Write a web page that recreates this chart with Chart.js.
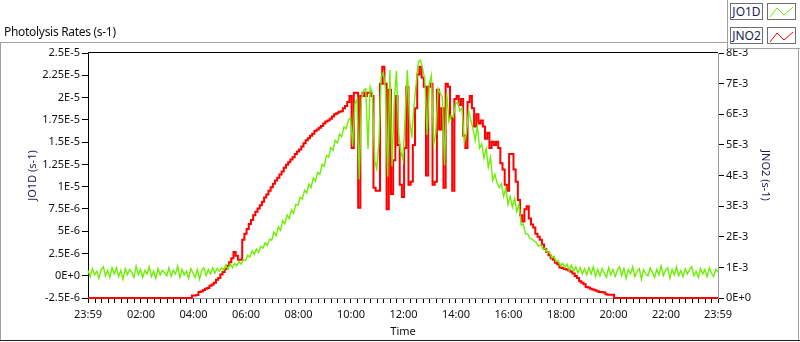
<!DOCTYPE html>
<html>
<head>
<meta charset="utf-8">
<title>Photolysis Rates</title>
<script src="https://cdn.jsdelivr.net/npm/chart.js@4.4.1/dist/chart.umd.min.js"></script>
<style>
  html, body { margin: 0; padding: 0; background: #fff; }
  body { width: 800px; height: 342px; position: relative; overflow: hidden; font-family: "Noto Sans", sans-serif; color: #111; }
  #chart { position: absolute; left: 0; top: 0; }
  .title { position: absolute; left: 4px; top: 24px; font-size: 12px; line-height: 16px; letter-spacing: -0.3px; white-space: nowrap; }
  .line { position: absolute; pointer-events: none; }
  .box { position: absolute; box-sizing: border-box; border: 1px solid #6d6d6d; background: #fff; }
  .name { display: flex; align-items: center; justify-content: center; font-size: 12px; line-height: 14px; color: #1c1c50; }
</style>
</head>
<body>
<canvas id="chart" width="800" height="342"></canvas>

<div class="title">Photolysis Rates (s-1)</div>

<!-- panel frame -->
<div class="line" style="left:0; top:42px; width:727px; border-top:1px solid #a0a0a0"></div>
<div class="line" style="left:727px; top:0; height:48px; border-left:1px solid #a0a0a0"></div>
<div class="line" style="left:727px; top:48px; width:73px; border-top:1px solid #a0a0a0"></div>
<div class="line" style="left:0; top:42px; height:299px; border-left:1px solid #a0a0a0"></div>
<div class="line" style="left:798px; top:48px; height:293px; border-left:1px solid #a0a0a0"></div>
<div class="line" style="left:0; top:340px; width:800px; border-top:1px solid #202020"></div>

<!-- legend -->
<div class="box name" style="left:730px; top:3px; width:33px; height:17px">JO1D</div>
<div class="box" style="left:767px; top:3px; width:29px; height:17px">
  <svg width="27" height="15"><polyline points="2,11 9,2 16,9 25,1" fill="none" stroke="#6cf000" stroke-width="1"/></svg>
</div>
<div class="box name" style="left:730px; top:27px; width:33px; height:17px">JNO2</div>
<div class="box" style="left:767px; top:27px; width:29px; height:17px">
  <svg width="27" height="15"><polyline points="2,12 9,3 16,10 25,2" fill="none" stroke="#ff0000" stroke-width="1"/></svg>
</div>

<script>
/* global Chart */

// samples every 5 min, first one at 23:59 of the previous day
const sampleStartMin = -1
const sampleStepMin = 5

// JO1D, units of 1E-6 s-1
const jo1d = [
  0.6, -0.1, 0.8, 0.1, 0.5, -0.3, 0.7, 1.0, 0.0, 0.6, -0.2, 0.9, // 00h
  0.2, 0.9, -0.1, 0.6, -0.4, 0.8, 0.1, 0.7, 0.4, -0.2, 1.1, 0.1, // 01h
  0.7, -0.2, 0.6, 0.2, 1.0, -0.1, 0.5, -0.3, 0.8, 0.1, 0.6, 0.3, // 02h
  0.0, 0.9, -0.1, 0.6, 0.2, 1.1, -0.2, 0.7, 0.1, 0.5, -0.3, 0.8, // 03h
  0.3, -0.2, 0.7, -0.4, 0.6, 0.9, 0.0, 0.7, 0.2, 0.9, 0.3, 0.8, // 04h
  0.5, 0.9, 0.6, 1.2, 0.7, 1.3, 0.9, 1.4, 1.1, 1.6, 1.3, 1.8, // 05h
  1.7, 2.3, 2.1, 2.8, 2.4, 3.0, 2.6, 3.3, 3.1, 3.7, 3.4, 4.1, // 06h
  4.0, 4.9, 4.5, 5.5, 5.1, 6.2, 5.8, 6.8, 6.4, 7.4, 7.0, 8.0, // 07h
  7.9, 8.8, 8.6, 9.6, 9.3, 10.3, 9.9, 11.0, 10.6, 11.6, 11.4, 12.5, // 08h
  12.3, 13.5, 13.3, 14.4, 14.1, 15.2, 14.9, 15.9, 15.6, 16.7, 16.5, 17.4, // 09h
  17.8, 14.5, 19.3, 19.8, 10.8, 19.9, 20.8, 21.0, 14.2, 21.2, 20.5, 13.0, // 10h
  12.0, 15.0, 22.3, 22.8, 21.0, 11.1, 23.1, 12.3, 19.5, 23.0, 16.0, 14.0, // 11h
  13.0, 18.0, 23.1, 17.5, 15.5, 19.0, 21.5, 24.0, 24.2, 23.2, 22.0, 15.8, // 12h
  21.5, 22.5, 14.7, 16.0, 21.0, 20.5, 20.0, 12.4, 20.5, 17.3, 18.0, 17.8, // 13h
  19.3, 19.5, 18.5, 18.8, 15.0, 16.0, 18.5, 17.5, 16.5, 15.2, 16.8, 14.3, // 14h
  14.8, 13.2, 14.3, 12.2, 13.3, 10.7, 11.4, 10.4, 9.9, 10.3, 8.9, 9.8, // 15h
  8.0, 8.9, 7.7, 8.7, 7.2, 8.0, 5.7, 5.8, 4.7, 4.7, 4.2, 4.1, // 16h
  3.9, 3.7, 3.3, 3.5, 3.0, 3.1, 2.6, 2.7, 2.0, 2.2, 1.6, 1.7, // 17h
  1.1, 1.4, 0.9, 1.3, 0.6, 1.2, 0.5, 1.0, 0.3, 0.9, 0.2, 0.8, // 18h
  0.1, 0.9, 0.2, 1.0, -0.1, 0.7, 0.0, 0.8, 0.3, -0.2, 0.9, 0.1, // 19h
  0.7, -0.1, 0.6, 1.0, 0.0, 0.8, -0.3, 0.7, 0.2, 1.0, -0.1, 0.5, // 20h
  0.8, -0.4, 0.7, 0.2, 0.0, 0.9, 0.4, -0.2, 0.7, 0.1, 1.1, 0.0, // 21h
  0.6, 0.9, -0.3, 0.7, 0.1, 1.0, 0.0, 0.6, -0.1, 0.8, 0.2, 0.7, // 22h
  1.0, 0.0, 0.5, -0.2, 0.8, 0.2, 0.7, -0.1, 0.9, 0.3, -0.1, 0.7, // 23h
  0.4
]

// JNO2, units of 1E-3 s-1
const jno2 = [
  0, 0, 0, 0, 0, 0, 0, 0, 0, 0, 0, 0, // 00h
  0, 0, 0, 0, 0, 0, 0, 0, 0, 0, 0, 0, // 01h
  0, 0, 0, 0, 0, 0, 0, 0, 0, 0, 0, 0, // 02h
  0, 0, 0, 0, 0, 0, 0, 0, 0, 0, 0, 0, // 03h
  0.08, 0.08, 0.1, 0.2, 0.21, 0.26, 0.3, 0.33, 0.4, 0.44, 0.5, 0.6, // 04h
  0.65, 0.77, 0.85, 0.95, 1.05, 1.17, 1.3, 1.5, 1.38, 1.25, 1.25, 1.9, // 05h
  2.1, 2.25, 2.42, 2.55, 2.7, 2.82, 2.92, 3.03, 3.14, 3.28, 3.38, 3.5, // 06h
  3.62, 3.73, 3.84, 3.93, 4.03, 4.13, 4.25, 4.35, 4.43, 4.52, 4.6, 4.7, // 07h
  4.78, 4.85, 4.95, 5.05, 5.15, 5.22, 5.3, 5.36, 5.45, 5.5, 5.56, 5.62, // 08h
  5.7, 5.76, 5.8, 5.85, 5.93, 6.0, 6.03, 6.08, 6.1, 6.2, 6.27, 6.4, // 09h
  6.6, 4.9, 6.7, 6.7, 2.95, 6.6, 6.7, 6.6, 6.7, 6.7, 6.6, 3.6, // 10h
  3.5, 3.5, 7.0, 7.55, 7.0, 2.9, 6.8, 3.4, 4.5, 6.6, 5.0, 3.7, // 11h
  3.3, 4.9, 6.9, 3.7, 3.8, 5.0, 6.2, 7.3, 7.55, 7.2, 6.9, 4.0, // 12h
  6.9, 7.0, 3.7, 3.8, 6.8, 5.5, 6.2, 3.6, 7.0, 6.9, 5.9, 3.5, // 13h
  6.5, 6.6, 6.3, 6.5, 5.3, 4.9, 6.4, 6.6, 6.2, 5.6, 6.0, 5.7, // 14h
  5.8, 5.6, 5.2, 5.4, 4.9, 5.1, 5.0, 5.1, 4.9, 4.4, 4.2, 3.7, // 15h
  3.5, 4.7, 4.7, 4.2, 3.8, 3.2, 2.7, 2.5, 2.9, 3.0, 2.6, 2.4, // 16h
  2.3, 2.1, 2.0, 1.9, 1.75, 1.6, 1.5, 1.4, 1.3, 1.25, 1.15, 1.1, // 17h
  1.0, 0.98, 0.95, 0.93, 0.9, 0.86, 0.8, 0.72, 0.65, 0.55, 0.5, 0.45, // 18h
  0.36, 0.34, 0.3, 0.28, 0.25, 0.22, 0.2, 0.2, 0.18, 0.12, 0.11, 0.11, // 19h
  0.11, 0, 0, 0, 0, 0, 0, 0, 0, 0, 0, 0, // 20h
  0, 0, 0, 0, 0, 0, 0, 0, 0, 0, 0, 0, // 21h
  0, 0, 0, 0, 0, 0, 0, 0, 0, 0, 0, 0, // 22h
  0, 0, 0, 0, 0, 0, 0, 0, 0, 0, 0, 0, // 23h
  0
]

const timeLabelMinutes = [-1, 120, 240, 360, 480, 600, 720, 840, 960, 1080, 1200, 1320, 1439]
const timeLabels = ['23:59', '02:00', '04:00', '06:00', '08:00', '10:00', '12:00', '14:00', '16:00', '18:00', '20:00', '22:00', '23:59']
const minorTickStepMin = 15

const jo1dTicks = [-2.5, 0, 2.5, 5, 7.5, 10, 12.5, 15, 17.5, 20, 22.5, 25]
const jo1dTickLabels = ['-2.5E-6', '0E+0', '2.5E-6', '5E-6', '7.5E-6', '1E-5', '1.25E-5', '1.5E-5', '1.75E-5', '2E-5', '2.25E-5', '2.5E-5']
const jno2Ticks = [0, 1, 2, 3, 4, 5, 6, 7, 8]
const jno2TickLabels = ['0E+0', '1E-3', '2E-3', '3E-3', '4E-3', '5E-3', '6E-3', '7E-3', '8E-3']

function toPoints (values) {
  return values.map((v, i) => ({ x: sampleStartMin + i * sampleStepMin, y: v }))
}

function timeTicks () {
  const list = [timeLabelMinutes[0]]
  for (let m = minorTickStepMin; m < timeLabelMinutes[timeLabelMinutes.length - 1]; m += minorTickStepMin) {
    list.push(m)
  }
  list.push(timeLabelMinutes[timeLabelMinutes.length - 1])
  return list
}

const textColor = '#111'
const tickFont = { family: '"Noto Sans", sans-serif', size: 11 }

// black top edge of the plot
const plotTopEdge = {
  id: 'plotTopEdge',
  beforeDatasetsDraw (chart) {
    const { ctx, chartArea } = chart
    ctx.save()
    ctx.strokeStyle = '#000'
    ctx.lineWidth = 1
    ctx.beginPath()
    ctx.moveTo(chartArea.left, chartArea.top - 0.5)
    ctx.lineTo(chartArea.right, chartArea.top - 0.5)
    ctx.stroke()
    ctx.restore()
  }
}

Chart.defaults.font.family = '"Noto Sans", sans-serif'
Chart.defaults.color = textColor

const ctx = document.getElementById('chart').getContext('2d')

new Chart(ctx, {
  type: 'line',
  data: {
    datasets: [
      {
        label: 'JO1D',
        data: toPoints(jo1d),
        yAxisID: 'yJ',
        borderColor: '#6cf000',
        borderWidth: 1.4,
        pointRadius: 0,
        tension: 0,
        clip: 3
      },
      {
        label: 'JNO2',
        data: toPoints(jno2),
        yAxisID: 'yN',
        borderColor: '#ff0000',
        borderWidth: 2,
        stepped: 'middle',
        pointRadius: 0,
        clip: 3
      }
    ]
  },
  options: {
    responsive: false,
    animation: false,
    layout: { padding: { top: 53, left: 0, right: 0, bottom: 0 } },
    plugins: {
      legend: { display: false },
      tooltip: { enabled: false }
    },
    scales: {
      x: {
        type: 'linear',
        position: 'bottom',
        min: timeLabelMinutes[0],
        max: timeLabelMinutes[timeLabelMinutes.length - 1],
        afterBuildTicks: (scale) => { scale.ticks = timeTicks().map(v => ({ value: v })) },
        afterFit: (scale) => { scale.height = 44 },
        border: { color: '#9a9a9a' },
        grid: { drawOnChartArea: false, tickLength: 5, tickColor: '#000' },
        ticks: {
          autoSkip: false,
          maxRotation: 0,
          padding: 5,
          font: tickFont,
          color: textColor,
          callback: (value) => {
            const i = timeLabelMinutes.indexOf(value)
            return i >= 0 ? timeLabels[i] : ''
          }
        },
        title: { display: true, text: 'Time', font: { size: 11 }, color: textColor, padding: { top: 0, bottom: 4 } }
      },
      yJ: {
        type: 'linear',
        position: 'left',
        min: jo1dTicks[0],
        max: jo1dTicks[jo1dTicks.length - 1],
        afterBuildTicks: (scale) => { scale.ticks = jo1dTicks.map(v => ({ value: v })) },
        afterFit: (scale) => { scale.width = 88 },
        border: { color: '#000' },
        grid: { drawOnChartArea: false, tickLength: 6, tickColor: '#000' },
        ticks: {
          padding: 2,
          font: tickFont,
          color: textColor,
          callback: (value, index) => jo1dTickLabels[index]
        },
        title: { display: true, text: 'JO1D (s-1)', font: { size: 11 }, color: '#1c1c50', padding: { top: 26 } }
      },
      yN: {
        type: 'linear',
        position: 'right',
        min: jno2Ticks[0],
        max: jno2Ticks[jno2Ticks.length - 1],
        afterBuildTicks: (scale) => { scale.ticks = jno2Ticks.map(v => ({ value: v })) },
        afterFit: (scale) => { scale.width = 82 },
        border: { color: '#9a9a9a' },
        grid: { drawOnChartArea: false, tickLength: 6, tickColor: '#000' },
        ticks: {
          padding: 2,
          font: tickFont,
          color: textColor,
          callback: (value, index) => jno2TickLabels[index]
        },
        title: { display: true, text: 'JNO2 (s-1)', font: { size: 11 }, color: '#1c1c50', padding: { top: 28 } }
      }
    }
  },
  plugins: [plotTopEdge]
})
</script>
</body>
</html>
